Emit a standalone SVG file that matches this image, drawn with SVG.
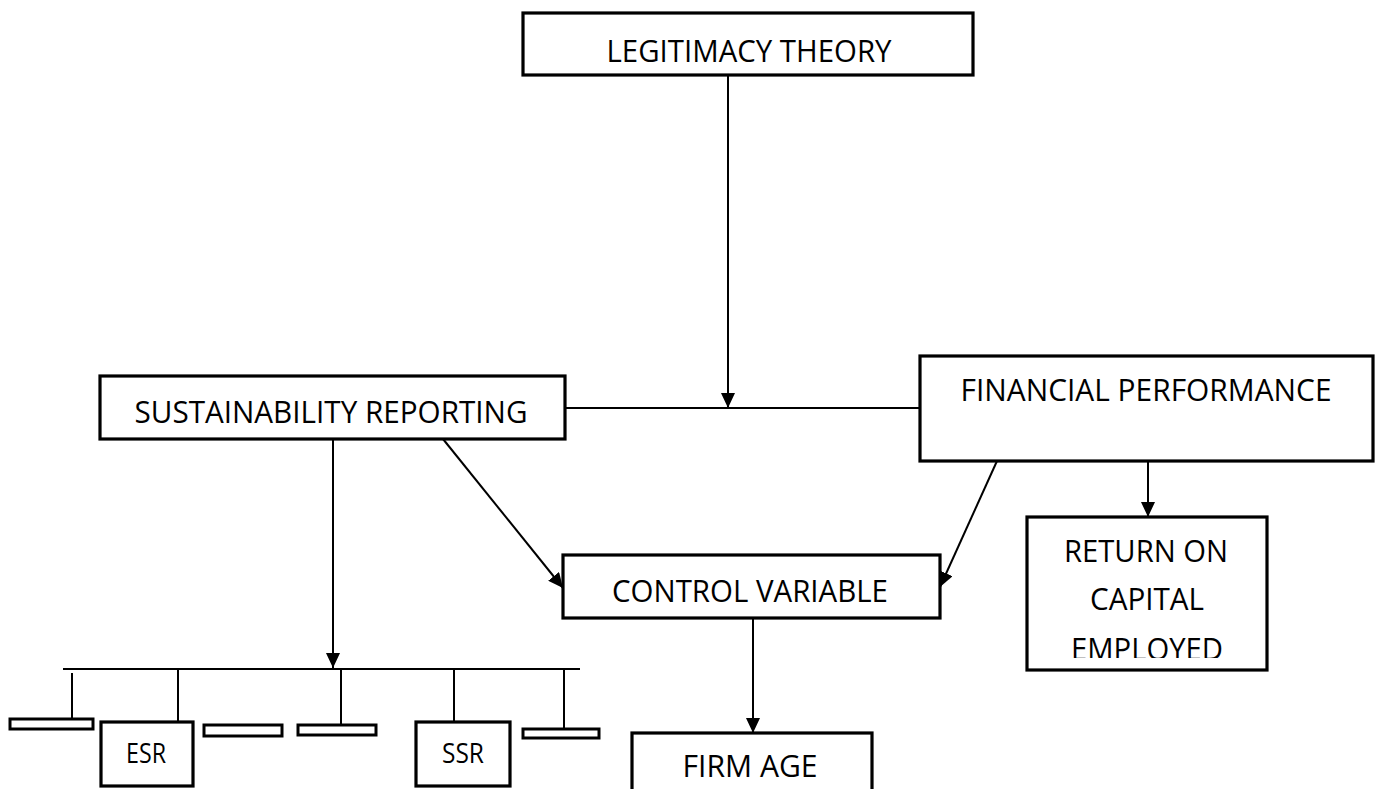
<svg xmlns="http://www.w3.org/2000/svg" width="1375" height="789" viewBox="0 0 1375 789">
<defs>
<style>
.box{fill:#fff;stroke:#000;stroke-width:3.2}
.bar{fill:#fff;stroke:#000;stroke-width:3}
.ln{stroke:#000;stroke-width:2;fill:none}
.t{font-family:"Open Sans","Noto Sans",sans-serif;font-size:31px;fill:#000;text-anchor:middle}
.s{font-family:"Open Sans","Noto Sans",sans-serif;font-size:27px;fill:#000;text-anchor:middle}
</style>
<marker id="ah" markerUnits="userSpaceOnUse" markerWidth="16" markerHeight="14" refX="15" refY="7" orient="auto">
<path d="M0,0 L15,7 L0,14 Z" fill="#000"/>
</marker>
<clipPath id="clipE"><rect x="1000" y="620" width="300" height="38"/></clipPath>
</defs>
<g id="connectors">
<line class="ln" x1="728" y1="75" x2="728" y2="408" marker-end="url(#ah)"/>
<line class="ln" x1="565" y1="408" x2="920" y2="408"/>
<line class="ln" x1="333" y1="439" x2="333" y2="668" marker-end="url(#ah)"/>
<line class="ln" x1="443" y1="439" x2="563" y2="588" marker-end="url(#ah)"/>
<line class="ln" x1="997" y1="461" x2="940" y2="587" marker-end="url(#ah)"/>
<line class="ln" x1="1148" y1="461" x2="1148" y2="517" marker-end="url(#ah)"/>
<line class="ln" x1="753" y1="618" x2="753" y2="733" marker-end="url(#ah)"/>
<line class="ln" x1="63" y1="669" x2="580" y2="669"/>
<line class="ln" x1="72" y1="673" x2="72" y2="718"/>
<line class="ln" x1="178" y1="669" x2="178" y2="722"/>
<line class="ln" x1="341" y1="669" x2="341" y2="724"/>
<line class="ln" x1="454" y1="669" x2="454" y2="722"/>
<line class="ln" x1="564" y1="669" x2="564" y2="729"/>
</g>
<g id="legitimacy">
<rect class="box" x="523" y="13" width="450" height="62"/>
<text class="t" x="749" y="62" textLength="285" lengthAdjust="spacingAndGlyphs">LEGITIMACY THEORY</text>
</g>
<g id="sustainability">
<rect class="box" x="100" y="376" width="465" height="63"/>
<text class="t" x="331" y="423" textLength="393" lengthAdjust="spacingAndGlyphs">SUSTAINABILITY REPORTING</text>
</g>
<g id="financial">
<rect class="box" x="920" y="356" width="453" height="105"/>
<text class="t" x="1146" y="401" textLength="371" lengthAdjust="spacingAndGlyphs">FINANCIAL PERFORMANCE</text>
</g>
<g id="roce">
<rect class="box" x="1027" y="517" width="240" height="153"/>
<text class="t" x="1146" y="562" textLength="164" lengthAdjust="spacingAndGlyphs">RETURN ON</text>
<text class="t" x="1147" y="610" textLength="114" lengthAdjust="spacingAndGlyphs">CAPITAL</text>
<text class="t" x="1147" y="660" textLength="152" lengthAdjust="spacingAndGlyphs" clip-path="url(#clipE)">EMPLOYED</text>
</g>
<g id="control">
<rect class="box" x="563" y="555" width="377" height="63"/>
<text class="t" x="750" y="602" textLength="276" lengthAdjust="spacingAndGlyphs">CONTROL VARIABLE</text>
</g>
<g id="firmage">
<rect class="box" x="632" y="733" width="240" height="70"/>
<text class="t" x="750" y="777" textLength="135" lengthAdjust="spacingAndGlyphs">FIRM AGE</text>
</g>
<g id="bar1"><rect class="bar" x="10" y="719" width="83" height="10"/></g>
<g id="esr">
<rect class="box" x="101" y="722" width="92" height="64"/>
<text class="s" x="146" y="763" textLength="40" lengthAdjust="spacingAndGlyphs">ESR</text>
</g>
<g id="bar3"><rect class="bar" x="204" y="725" width="78" height="11"/></g>
<g id="bar4"><rect class="bar" x="298" y="725" width="78" height="10"/></g>
<g id="ssr">
<rect class="box" x="416" y="722" width="94" height="64"/>
<text class="s" x="463" y="763" textLength="42" lengthAdjust="spacingAndGlyphs">SSR</text>
</g>
<g id="bar6"><rect class="bar" x="523" y="729" width="76" height="9"/></g>
</svg>
